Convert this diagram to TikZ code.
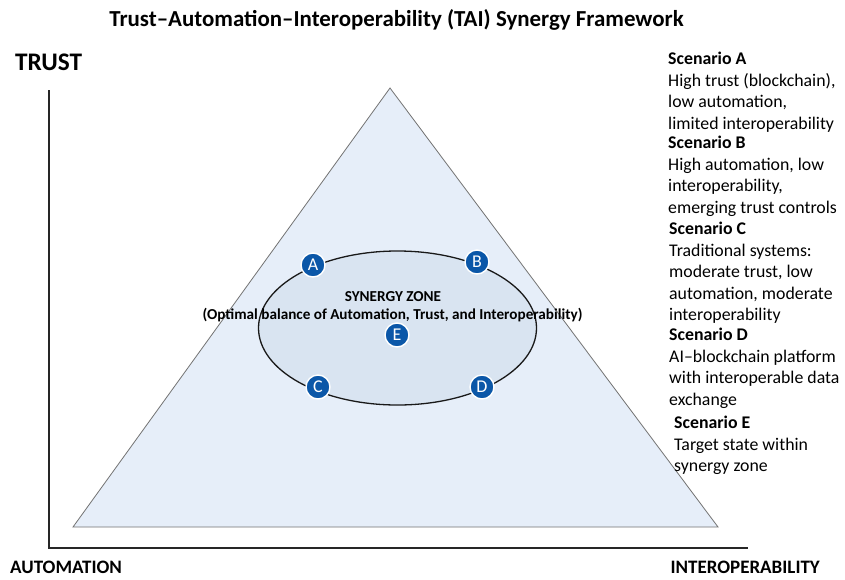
\documentclass[tikz,border=0pt]{standalone}
\usepackage{fontspec}
\usetikzlibrary{shapes.geometric}
\setmainfont{Carlito}
\begin{document}
\begin{tikzpicture}[x=1pt,y=-1pt,
  axislabel/.style={font=\bfseries\fontsize{19}{21}\selectfont,inner sep=0pt},
  marker/.style={circle,minimum size=24pt,inner sep=0pt,fill=markerblue,draw=white,line width=1.4pt,text=white,font=\fontsize{18}{18}\selectfont},
  scen/.style={anchor=north west,align=left,inner sep=0pt,font=\fontsize{17.8}{21.5}\selectfont},
  zonetext/.style={inner sep=0pt,font=\bfseries\fontsize{15.2}{17}\selectfont},
]
\definecolor{markerblue}{HTML}{0B57A8}
\definecolor{trifill}{HTML}{E6EEF9}
\definecolor{ellfill}{HTML}{D9E4F1}
\useasboundingbox (0,0) rectangle (845,579);
\fill[white] (0,0) rectangle (845,579);
% title
\node[inner sep=0pt,font=\bfseries\fontsize{22.9}{25}\selectfont] (title) at (396.5,20) {Trust–Automation–Interoperability (TAI) Synergy Framework};
% axes
\coordinate (ytop) at (49,90);
\coordinate (origin) at (49,548);
\coordinate (xend) at (748,548);
\draw[line width=1.6pt,black!85] (ytop) -- (origin) -- (xend);
\node[inner sep=0pt,anchor=west,font=\bfseries\fontsize{25.3}{27}\selectfont] (trust) at (15,62) {TRUST};
\node[axislabel,anchor=base west] (auto) at (10,573) {AUTOMATION};
\node[axislabel,anchor=base east] (interop) at (820,573) {INTEROPERABILITY};
% triangle
\coordinate (apex) at (390,88);
\coordinate (bl) at (73,527);
\coordinate (br) at (718,527);
\draw[fill=trifill,draw=black!55,line width=0.8pt] (apex) -- (br) -- (bl) -- cycle;
% ellipse
\node[ellipse,draw=black!90,line width=1.3pt,fill=ellfill,minimum width=278pt,minimum height=154pt,inner sep=0pt] (zone) at (397.5,328) {};
\node[zonetext] (zt) at (393,297) {SYNERGY ZONE};
\node[zonetext] (zs) at (392.5,315) {(Optimal balance of Automation, Trust, and Interoperability)};
% markers
\node[marker] (A) at (313,265) {A};
\node[marker] (B) at (477,262) {B};
\node[marker] (C) at (318,387) {C};
\node[marker] (D) at (482,387) {D};
\node[marker] (E) at (397,335) {E};
% scenarios
\node[scen] (sa) at (668,52) {\textbf{Scenario A}\\High trust (blockchain),\\low automation,\\limited interoperability};
\node[scen] (sb) at (668,136) {\textbf{Scenario B}\\High automation, low\\interoperability,\\emerging trust controls};
\node[scen] (sc) at (669,222) {\textbf{Scenario C}\\Traditional systems:\\moderate trust, low\\automation, moderate\\interoperability};
\node[scen] (sd) at (669,328) {\textbf{Scenario D}\\AI–blockchain platform\\with interoperable data\\exchange};
\node[scen] (se) at (674,416) {\textbf{Scenario E}\\Target state within\\synergy zone};
\end{tikzpicture}
\end{document}
